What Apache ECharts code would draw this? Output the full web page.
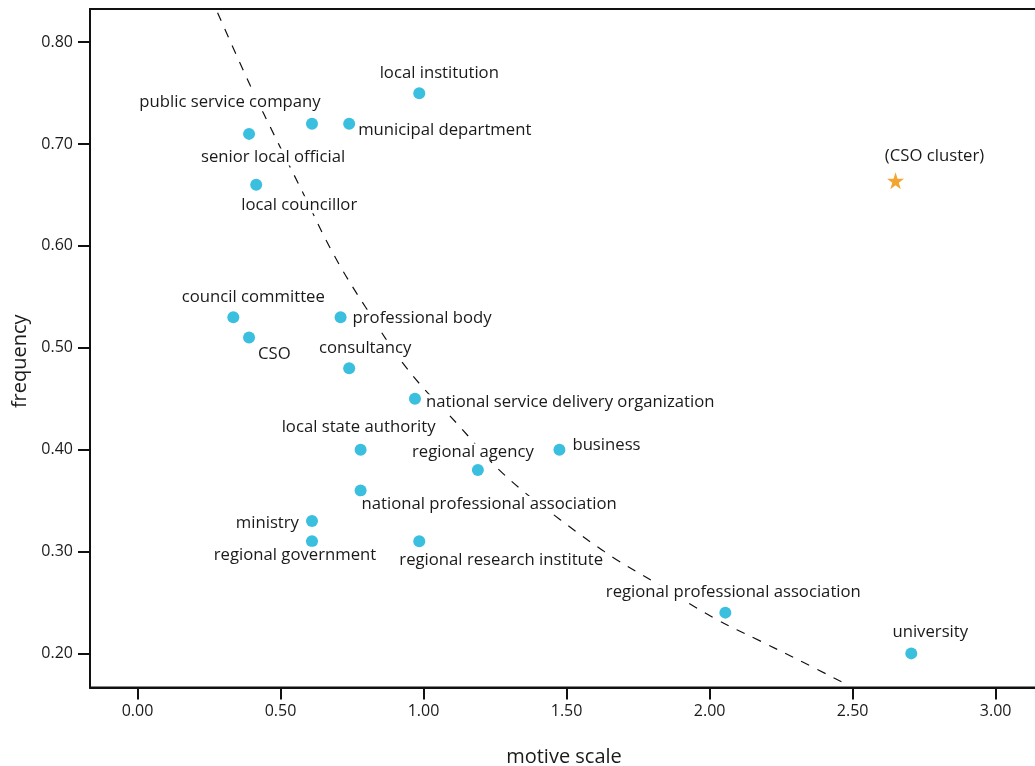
<!DOCTYPE html>
<html>
<head>
<meta charset="utf-8">
<script src="https://cdn.jsdelivr.net/npm/echarts@6/dist/echarts.min.js"></script>
<style>
  html, body { margin: 0; padding: 0; background: #ffffff; }
  #chart { width: 1035px; height: 766px; }
</style>
</head>
<body>
<div id="chart"></div>
<script>
// Actors: motive scale (x) against frequency (y)
const actorNames = [
  'local institution', 'public service company', 'municipal department',
  'senior local official', 'local councillor', 'council committee', 'CSO',
  'professional body', 'consultancy', 'national service delivery organization',
  'local state authority', 'business', 'regional agency',
  'national professional association', 'ministry', 'regional government',
  'regional research institute', 'regional professional association', 'university'
];
const motiveScale = [
  0.985, 0.61, 0.74,
  0.39, 0.415, 0.335, 0.39,
  0.71, 0.74, 0.97,
  0.78, 1.475, 1.19,
  0.78, 0.61, 0.61,
  0.985, 2.055, 2.705
];
const frequency = [
  0.75, 0.72, 0.72,
  0.71, 0.66, 0.53, 0.51,
  0.53, 0.48, 0.45,
  0.40, 0.40, 0.38,
  0.36, 0.33, 0.31,
  0.31, 0.24, 0.20
];

// Cluster centroid
const clusterName = '(CSO cluster)';
const clusterPoint = [2.65, 0.664];

// Dashed trend curve, traced point by point
const trendX = [0.280, 0.395, 0.490, 0.577, 0.685, 0.797, 0.944, 1.119, 1.280, 1.479, 1.664, 1.801, 2.014, 2.178, 2.329, 2.476];
const trendY = [0.829, 0.757, 0.702, 0.653, 0.592, 0.540, 0.479, 0.425, 0.376, 0.331, 0.294, 0.271, 0.235, 0.212, 0.191, 0.170];

// Axis ticks
const xTicks = [0, 0.5, 1.0, 1.5, 2.0, 2.5, 3.0];
const yTicks = [0.2, 0.3, 0.4, 0.5, 0.6, 0.7, 0.8];

// Label placement per actor: [align, dx, dy] relative to the dot centre
const labelPlacement = [
  ['center', 20, -20], ['center', -82, -21], ['left', 8, 7],
  ['center', 24, 23], ['center', 43, 20], ['center', 20, -20], ['left', 8, 17],
  ['left', 11, 1], ['center', 16, -20], ['left', 10, 4],
  ['center', -2, -22], ['left', 12, -4], ['center', -5, -18],
  ['left', 0, 14], ['right', -12, 2], ['center', -17, 14],
  ['center', 82, 19], ['center', 8, -20], ['center', 19, -21]
];
const clusterPlacement = ['center', 39, -24];

const FONT = '"Open Sans", "Noto Sans", sans-serif';
const TEXT = '#1a1a1a';

function pointLabel(p) {
  return {
    show: true,
    position: 'inside',
    align: p[0],
    verticalAlign: 'middle',
    offset: [p[1], p[2]],
    fontFamily: FONT,
    fontSize: 16.7,
    color: TEXT,
    backgroundColor: '#ffffff',
    padding: [0, 1],
    formatter: '{b}'
  };
}

const actorData = actorNames.map((n, i) => ({
  name: n,
  value: [motiveScale[i], frequency[i]],
  label: pointLabel(labelPlacement[i])
}));

const trendData = trendX.map((x, i) => [x, trendY[i]]);

const chart = echarts.init(document.getElementById('chart'), null, { renderer: 'canvas' });

chart.setOption({
  animation: false,
  backgroundColor: '#ffffff',
  grid: {
    left: 90, top: 9, right: -3, bottom: 78.5,
    outerBoundsMode: 'none',
    containLabel: false,
    show: true, borderColor: '#111111', borderWidth: 2, backgroundColor: 'transparent'
  },
  xAxis: {
    type: 'value',
    min: -0.166, max: 3.148,
    name: 'motive scale',
    nameLocation: 'middle',
    nameGap: 60,
    nameTextStyle: { fontFamily: FONT, fontSize: 20, color: TEXT },
    axisLine: { show: true, onZero: false, lineStyle: { color: '#111111', width: 2 } },
    axisTick: { show: true, customValues: xTicks, length: 12, lineStyle: { color: '#111111', width: 2 } },
    axisLabel: {
      customValues: xTicks, margin: 16,
      fontFamily: FONT, fontSize: 16, color: TEXT,
      formatter: v => v.toFixed(2)
    },
    splitLine: { show: false }
  },
  yAxis: {
    type: 'value',
    min: 0.1665, max: 0.8326,
    name: 'frequency',
    nameLocation: 'middle',
    nameRotate: 90,
    nameGap: 58,
    nameTextStyle: { fontFamily: FONT, fontSize: 20, color: TEXT, padding: [0, 26, 0, 0] },
    axisLine: { show: true, onZero: false, lineStyle: { color: '#111111', width: 2 } },
    axisTick: { show: true, customValues: yTicks, length: 12, lineStyle: { color: '#111111', width: 2 } },
    axisLabel: {
      customValues: yTicks, margin: 17,
      fontFamily: FONT, fontSize: 16, color: TEXT,
      formatter: v => v.toFixed(2)
    },
    splitLine: { show: false }
  },
  series: [
    {
      type: 'line',
      data: trendData,
      smooth: 0.4,
      symbol: 'none',
      z: 1,
      silent: true,
      lineStyle: { color: '#111111', width: 1.2, type: [9, 9] }
    },
    {
      type: 'scatter',
      data: actorData,
      symbol: 'circle',
      symbolSize: 12,
      z: 3,
      itemStyle: { color: '#3bbfdf', opacity: 1 }
    },
    {
      type: 'scatter',
      data: [{ name: clusterName, value: clusterPoint, label: pointLabel(clusterPlacement) }],
      symbol: 'path://M50,0 L61.8,36.3 L100,36.3 L69.1,58.8 L80.9,95.1 L50,72.6 L19.1,95.1 L30.9,58.8 L0,36.3 L38.2,36.3 Z',
      symbolSize: 17,
      z: 3,
      itemStyle: { color: '#f2a530', opacity: 1 }
    }
  ]
});
</script>
</body>
</html>
